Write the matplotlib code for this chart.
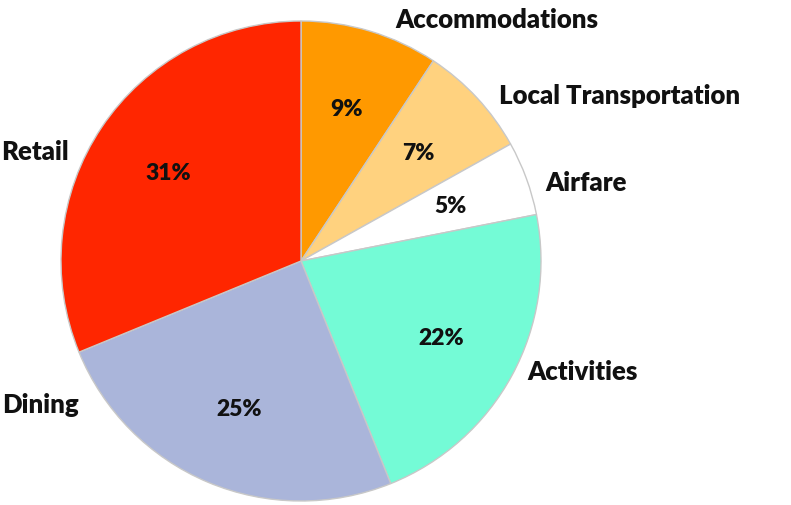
import matplotlib
matplotlib.use("Agg")
import matplotlib.pyplot as plt
import numpy as np

categories = ["Accommodations", "Local Transportation", "Airfare", "Activities", "Dining", "Retail"]
values = [9.3, 7.6, 5.0, 22.0, 24.9, 31.2]
pct_labels = ["9%", "7%", "5%", "22%", "25%", "31%"]
colors = ["#FF9900", "#FFD27F", "#FFFFFF", "#74FBD6", "#AAB5DA", "#FF2600"]

W, H = 791, 506
fig = plt.figure(figsize=(W / 100, H / 100), dpi=100)
ax = fig.add_axes([0, 0, 1, 1])

font = dict(family=["Lato", "DejaVu Sans"], weight="heavy", color="#111111")
wedges, texts = ax.pie(
    values, colors=colors, startangle=90, counterclock=False,
    center=(301, H - 262), radius=240, frame=True,
    wedgeprops=dict(edgecolor="#c8c8c8", linewidth=1.0),
)
for w, lab in zip(wedges, pct_labels):
    ang = np.deg2rad((w.theta1 + w.theta2) / 2)
    x = 301 + 0.665 * 240 * np.cos(ang)
    y = (H - 262) + 0.665 * 240 * np.sin(ang)
    ax.text(x, y, lab, ha="center", va="center", fontsize=16.5, **font)
ax.set_xlim(0, W)
ax.set_ylim(0, H)
ax.set_aspect("equal")
ax.axis("off")

label_pos = {
    "Accommodations": (395, 20, "left"),
    "Local Transportation": (499, 96, "left"),
    "Airfare": (545, 183, "left"),
    "Activities": (527, 372, "left"),
    "Dining": (79, 405, "right"),
    "Retail": (69, 152, "right"),
}
for name in categories:
    x, y, ha = label_pos[name]
    ax.text(x, H - y, name, ha=ha, va="center", fontsize=18.5, **font)

fig.savefig("out.png", dpi=100)
